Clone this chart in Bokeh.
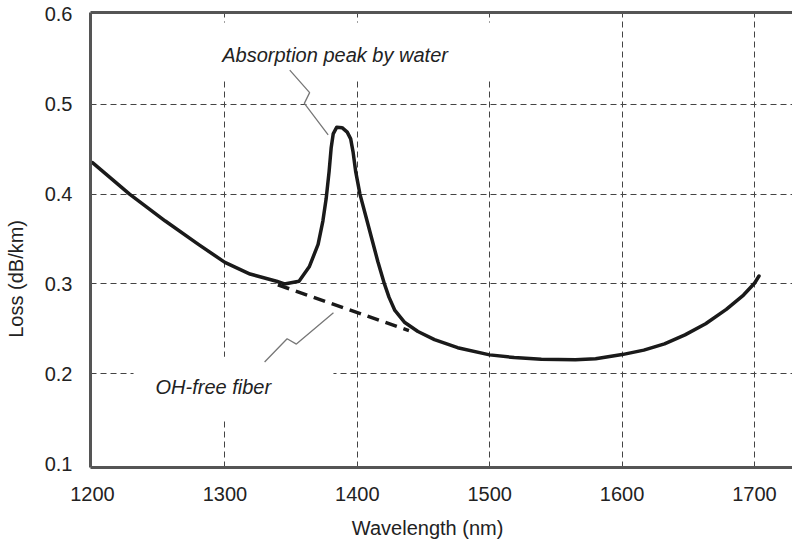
from bokeh.plotting import figure
from bokeh.models import LinearAxis, Label, BoxAnnotation, FixedTicker, Range1d
from bokeh.embed import file_html
from bokeh.resources import INLINE

# ---- data ----
wavelength = [1200, 1228, 1255, 1280, 1300, 1319, 1339, 1345, 1356, 1363.7, 1370.4, 1374,
              1376.5, 1378.7, 1380.3, 1381.8, 1384.5, 1388.5, 1392.4, 1395, 1396.8, 1398.8,
              1402, 1406.5, 1411, 1415.5, 1420.5, 1424, 1428.4, 1435.9, 1445.8, 1458.3,
              1475.8, 1500, 1518.5, 1539, 1564.7, 1580, 1600, 1616.4, 1632, 1647.5, 1663.1,
              1678.7, 1691.7, 1700, 1703.4]
loss = [0.435, 0.400, 0.370, 0.344, 0.324, 0.311, 0.303, 0.300, 0.303, 0.319, 0.344, 0.370,
        0.395, 0.425, 0.452, 0.467, 0.4745, 0.474, 0.469, 0.4615, 0.447, 0.425,
        0.400, 0.375, 0.350, 0.325, 0.300, 0.285, 0.2705, 0.257, 0.247, 0.238,
        0.229, 0.221, 0.218, 0.216, 0.2156, 0.2167, 0.2213, 0.2263, 0.2333, 0.2433, 0.2556,
        0.2716, 0.2876, 0.3007, 0.3088]

ohfree_wl = [1340, 1439]
ohfree_loss = [0.299, 0.248]

leader_peak_x = [1349, 1364, 1360, 1378]
leader_peak_y = [0.538, 0.513, 0.501, 0.466]
leader_oh_x = [1330, 1347, 1354, 1382]
leader_oh_y = [0.213, 0.239, 0.233, 0.268]

x_ticks = [1200, 1300, 1400, 1500, 1600, 1700]
y_ticks = [0.1, 0.2, 0.3, 0.4, 0.5, 0.6]

FONT = "Liberation Sans"
TXT = "#222222"
AX = "#555555"
NB = "\u00a0"

p = figure(width=792, height=541, output_backend="svg", toolbar_location=None,
           x_range=Range1d(1198.5, 1728.7), y_range=Range1d(0.0956, 0.6022),
           min_border_left=90, min_border_right=0, min_border_top=12, min_border_bottom=73)
p.outline_line_color = None
p.background_fill_color = "white"

for ax in (p.xaxis[0], p.yaxis[0]):
    ax.axis_line_width = 3
    ax.axis_line_color = AX
    ax.major_tick_line_color = None
    ax.minor_tick_line_color = None
    ax.major_label_text_font = FONT
    ax.major_label_text_font_size = "20px"
    ax.major_label_text_color = TXT
    ax.axis_label_text_font = FONT
    ax.axis_label_text_font_size = "20px"
    ax.axis_label_text_font_style = "normal"
    ax.axis_label_text_color = TXT
p.xaxis.ticker = FixedTicker(ticks=x_ticks)
p.yaxis.ticker = FixedTicker(ticks=y_ticks)
p.xaxis.major_label_standoff = 13
p.yaxis.major_label_standoff = 12
p.xaxis.axis_label = "Wavelength (nm)" + NB * 5
p.yaxis.axis_label = "Loss (dB/km)" + NB * 14
p.xaxis.axis_label_standoff = 13
p.yaxis.axis_label_standoff = 15

top = LinearAxis(axis_line_width=3, axis_line_color=AX, major_tick_line_color=None,
                 minor_tick_line_color=None, major_label_text_font_size="0px",
                 major_label_standoff=0, major_tick_out=0, minor_tick_out=0)
top.ticker = FixedTicker(ticks=[])
p.add_layout(top, "above")

p.grid.grid_line_color = "#444444"
p.grid.grid_line_dash = "6 4"
p.grid.grid_line_width = 1
p.xgrid.ticker = FixedTicker(ticks=[1300, 1400, 1500, 1600, 1700])
p.ygrid.ticker = FixedTicker(ticks=[0.2, 0.3, 0.4, 0.5])

# white boxes behind annotation texts (cover grid)
p.add_layout(BoxAnnotation(left=1293, right=1512, bottom=0.529, top=0.591,
                           fill_color="white", fill_alpha=1, line_color=None, level="underlay"))
p.add_layout(BoxAnnotation(left=1231, right=1382, bottom=0.149, top=0.219,
                           fill_color="white", fill_alpha=1, line_color=None, level="underlay"))

p.line(wavelength, loss, line_color="#1a1a1a", line_width=3.5, line_join="round", line_cap="round")
p.line(ohfree_wl, ohfree_loss, line_color="#1a1a1a", line_width=3.5, line_dash="12 7")
p.line(leader_peak_x, leader_peak_y, line_color="#777777", line_width=1.3)
p.line(leader_oh_x, leader_oh_y, line_color="#777777", line_width=1.3)

p.add_layout(Label(x=1298, y=0.5544, text="Absorption peak by water", text_font=FONT,
                   text_font_style="italic", text_font_size="20px", text_color=TXT,
                   text_baseline="middle", text_align="left"))
p.add_layout(Label(x=1247.6, y=0.1856, text="OH-free fiber", text_font=FONT,
                   text_font_style="italic", text_font_size="20px", text_color=TXT,
                   text_baseline="middle", text_align="left"))

open("out.html", "w").write(file_html(p, INLINE))
